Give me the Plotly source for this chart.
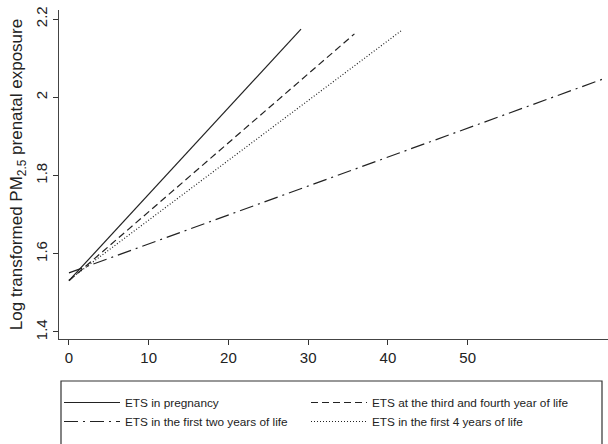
import plotly.graph_objects as go

# Data (linear predictions)
preg_x = [0, 29.1]
preg_y = [1.531, 2.174]
third_fourth_x = [0, 35.8]
third_fourth_y = [1.531, 2.162]
first_two_x = [0, 66.9]
first_two_y = [1.551, 2.046]
first_four_x = [0, 41.8]
first_four_y = [1.533, 2.172]

x_ticks = [0, 10, 20, 30, 40, 50]
y_ticks = [1.4, 1.6, 1.8, 2.0, 2.2]
y_tick_labels = ["1.4", "1.6", "1.8", "2", "2.2"]

LC = "#222222"
fig = go.Figure()
fig.add_trace(go.Scatter(x=preg_x, y=preg_y, mode="lines", name="ETS in pregnancy",
                         legend="legend",
                         line=dict(color=LC, width=1.2, dash="solid")))
fig.add_trace(go.Scatter(x=first_two_x, y=first_two_y, mode="lines",
                         name="ETS in the first two years of life", legend="legend",
                         line=dict(color=LC, width=1.2, dash="14px,5px,2px,5px")))
fig.add_trace(go.Scatter(x=third_fourth_x, y=third_fourth_y, mode="lines",
                         name="ETS at the third and fourth year of life", legend="legend2",
                         line=dict(color=LC, width=1.2, dash="7px,4px")))
fig.add_trace(go.Scatter(x=first_four_x, y=first_four_y, mode="lines",
                         name="ETS in the first 4 years of life", legend="legend2",
                         line=dict(color=LC, width=1.2, dash="1px,2px")))

font_family = "Liberation Sans, Arial, sans-serif"
leg_common = dict(orientation="h", xref="container", yref="container",
                  xanchor="left", y=1 - 388 / 444, yanchor="top", itemwidth=56,
                  entrywidth=300, entrywidthmode="pixels",
                  font=dict(size=11.8, family=font_family), tracegroupgap=0,
                  bgcolor="rgba(0,0,0,0)", borderwidth=0, traceorder="normal")
fig.update_layout(
    template="none",
    width=608, height=444,
    margin=dict(l=59, r=0, t=10, b=105),
    paper_bgcolor="white", plot_bgcolor="white",
    font=dict(family=font_family, color="#222222"),
    showlegend=True,
    legend=dict(x=59 / 608, **leg_common),
    legend2=dict(x=306 / 608, **leg_common),
    xaxis=dict(range=[-1.25, 67.6], tickvals=x_ticks, ticks="outside", ticklen=5,
               tickcolor="#333", showline=True, linecolor="#444", linewidth=1.2,
               showgrid=False, zeroline=False, tickfont=dict(size=15),
               automargin=False),
    yaxis=dict(range=[1.382, 2.223], tickvals=y_ticks, ticktext=y_tick_labels,
               ticks="outside", ticklen=5, tickcolor="#333", showline=True,
               linecolor="#444", linewidth=1.2, showgrid=False, zeroline=False,
               tickangle=-90, tickfont=dict(size=15), automargin=False,
               title=dict(text="Log transformed PM<sub>2.5</sub> prenatal exposure",
                          font=dict(size=17), standoff=5)),
)
fig.add_shape(type="rect", xref="paper", yref="paper",
              x0=(61 - 59) / 549, x1=(602 - 59) / 549,
              y0=-0.5, y1=(339 - 381) / 329,
              line=dict(color="#333", width=1.2), fillcolor="rgba(0,0,0,0)")
fig.write_html("out.html", config={"displayModeBar": False},
               post_script="document.body.style.margin='0';document.body.style.overflow='hidden';")
